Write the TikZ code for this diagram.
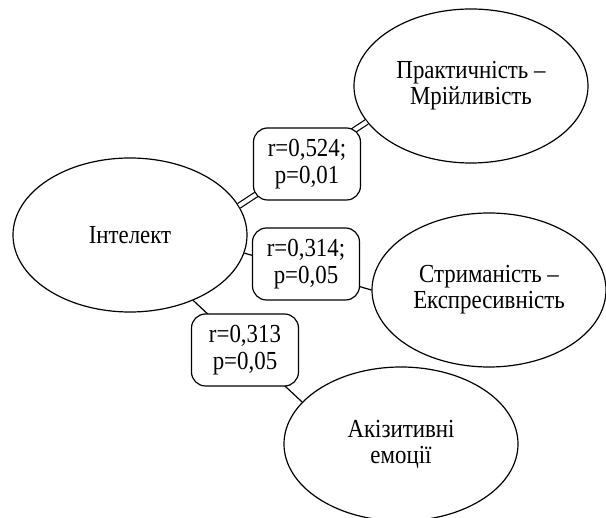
\documentclass[tikz,border=0pt]{standalone}
\usepackage{fontspec}
\setmainfont[FakeStretch=0.88]{Liberation Serif}
\usetikzlibrary{shapes.geometric}

\begin{document}
\begin{tikzpicture}[x=1pt,y=-1pt,line width=1.2pt,
  factor/.style={ellipse,draw,minimum width=234pt,minimum height=154pt,
    inner sep=0pt,align=center,font=\fontsize{26}{26}\selectfont},
  corr/.style={draw,fill=white,rounded corners=14pt,minimum width=107pt,
    minimum height=72pt,inner sep=0pt,align=center,
    font=\fontsize{26}{27}\selectfont}]
\useasboundingbox (0,0) rectangle (606,518);
% Factors.
\node[factor] (int)   at (130,235) {Інтелект};
\node[factor] (prakt) at (471,86)  {Практичність –\\Мрійливість};
\node[factor] (strym) at (489,290) {Стриманість –\\Експресивність};
\node[factor] (akiz)  at (401,444) {Акізитивні\\емоції};
% Links.
\draw[double,double distance=4pt] (int.15) -- (prakt.199);
\draw (int.-9) -- (strym.west);
\draw (int.-46) -- (akiz.157);
% Coefficients.
\node[corr] (r1) at (307,164) {r=0,524;\\p=0,01};
\node[corr] (r2) at (306,264) {r=0,314;\\p=0,05};
\node[corr] (r3) at (245,350) {r=0,313\\p=0,05};
\end{tikzpicture}
\end{document}
